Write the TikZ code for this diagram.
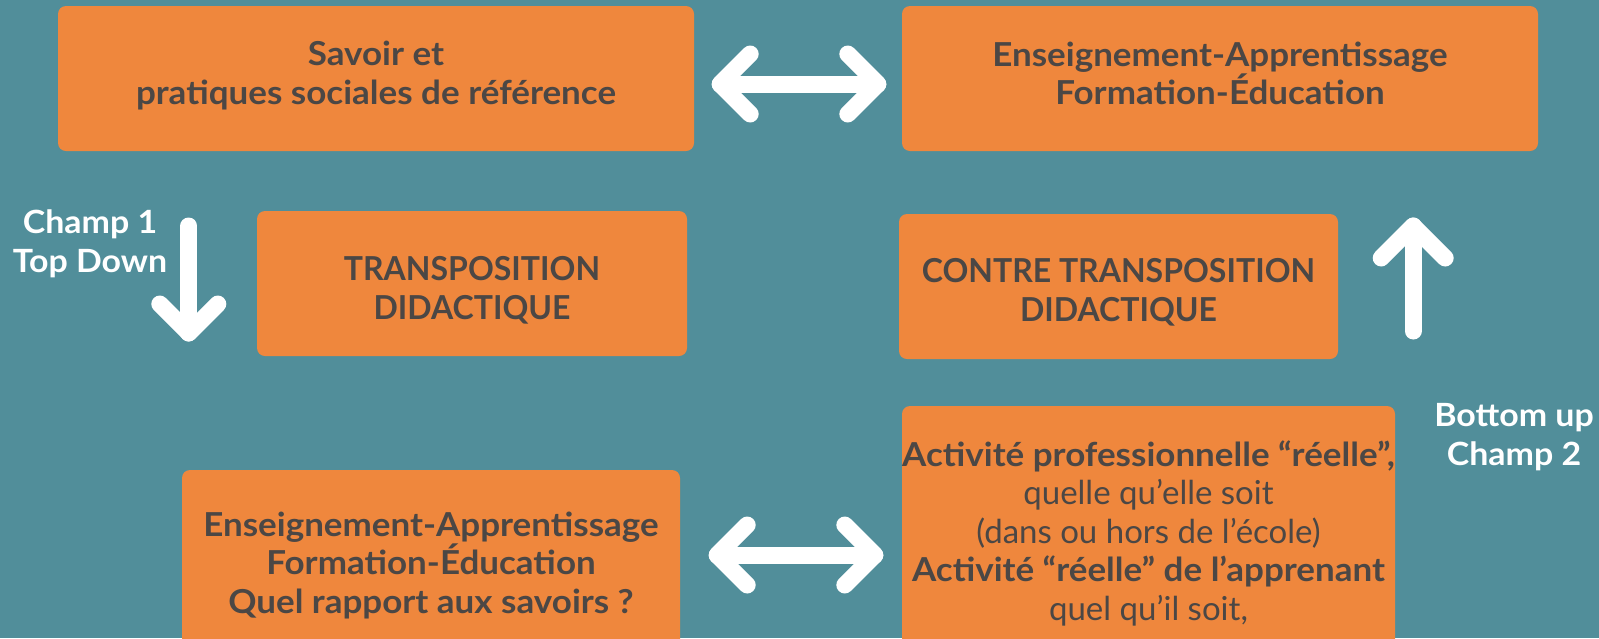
\documentclass[tikz,border=0pt]{standalone}
\usepackage{fontspec}
\setmainfont{Lato}[FakeStretch=1.06]
\newfontfamily\capsfont{Lato}[FakeStretch=0.97]
\newfontfamily\plainfont{Lato}
\usetikzlibrary{calc}
\definecolor{bgteal}{HTML}{518E9A}
\definecolor{boxorange}{HTML}{EF873D}
\definecolor{darktext}{HTML}{4B4745}
\tikzset{
  box/.style={fill=boxorange, rounded corners=8pt, inner sep=0pt},
  txt/.style={inner sep=0pt, text=darktext, align=center, font=\fontsize{33}{38.5}\selectfont},
  warrow/.style={draw=white, line width=17pt, line cap=round, line join=round},
  lbl/.style={text=white, align=center, font=\bfseries\fontsize{32}{38.5}\selectfont}
}
\begin{document}
\begin{tikzpicture}[x=1pt,y=-1pt]
\fill[bgteal] (0,0) rectangle (1599,638);
\useasboundingbox (0,0) rectangle (1599,638);

\node[box, minimum width=636pt, minimum height=145pt] (b1) at (376,78.5) {};
\node[txt] (b1t) at ([yshift=3pt]b1.center)
  {\bfseries Savoir et\\\bfseries pratiques sociales de référence};
\node[box, minimum width=636pt, minimum height=145pt] (b2) at (1220,78.5) {};
\node[txt] (b2t) at ([yshift=5pt]b2.center)
  {\bfseries Enseignement-Apprentissage\\\bfseries Formation-Éducation};
\node[box, minimum width=430pt, minimum height=145pt] (b3) at (472,283.5) {};
\node[txt] (b3t) at ([yshift=-7pt]b3.center)
  {\capsfont\bfseries TRANSPOSITION\\\capsfont\bfseries DIDACTIQUE};
\node[box, minimum width=439pt, minimum height=145pt] (b4) at (1118.5,286.5) {};
\node[txt] (b4t) at ([yshift=-6pt]b4.center)
  {\capsfont\bfseries CONTRE TRANSPOSITION\\\capsfont\bfseries DIDACTIQUE};
\node[box, minimum width=498pt, minimum height=186pt] (b5) at (431,563) {};
\node[txt] (b5t) at ([yshift=-2pt]b5.center)
  {\bfseries Enseignement-Apprentissage\\\bfseries Formation-Éducation\\\bfseries Quel rapport aux savoirs ?};
\node[box, minimum width=493pt, minimum height=250pt] (b6) at (1148.5,531) {};
\node[txt] (b6t) at ([yshift=-2pt]b6.center)
  {\bfseries Activité professionnelle “réelle”,\\\plainfont quelle qu’elle soit\\\plainfont (dans ou hors de l’école)\\\bfseries Activité “réelle” de l’apprenant\\\plainfont quel qu’il soit,};

\node[lbl] (l1) at (90,244) {Champ 1\\Top Down};
\node[lbl] (l2) at (1514,437) {Bottom up\\Champ 2};

% top double arrow
\coordinate (t1) at ([xshift=26pt,yshift=-5.5pt]b1.east);
\coordinate (t2) at ([xshift=-24pt,yshift=-5.5pt]b2.west);
\draw[warrow] (t1) -- (t2);
\draw[warrow] ($(t1)+(30,-30)$) -- (t1) -- ($(t1)+(30,30)$);
\draw[warrow] ($(t2)+(-30,-30)$) -- (t2) -- ($(t2)+(-30,30)$);

% bottom double arrow
\coordinate (t3) at ([xshift=37pt,yshift=8pt]b5.east);
\coordinate (t4) at ([xshift=-27pt,yshift=-24pt]b6.west);
\draw[warrow] (t3) -- (t4);
\draw[warrow] ($(t3)+(30,-30)$) -- (t3) -- ($(t3)+(30,30)$);
\draw[warrow] ($(t4)+(-30,-30)$) -- (t4) -- ($(t4)+(-30,30)$);

% down arrow
\coordinate (d1) at ([xshift=-68pt,yshift=57.5pt]b3.west);
\coordinate (d2) at ([xshift=-68pt,yshift=-49.5pt]b3.west);
\draw[warrow] (d1) -- (d2);
\draw[warrow] ($(d2)+(-29,-29)$) -- (d2) -- ($(d2)+(29,-29)$);

% up arrow
\coordinate (u1) at ([xshift=75pt,yshift=-44.5pt]b4.east);
\coordinate (u2) at ([xshift=75pt,yshift=60.5pt]b4.east);
\draw[warrow] (u1) -- (u2);
\draw[warrow] ($(u2)+(-32,32)$) -- (u2) -- ($(u2)+(32,32)$);
\end{tikzpicture}
\end{document}
